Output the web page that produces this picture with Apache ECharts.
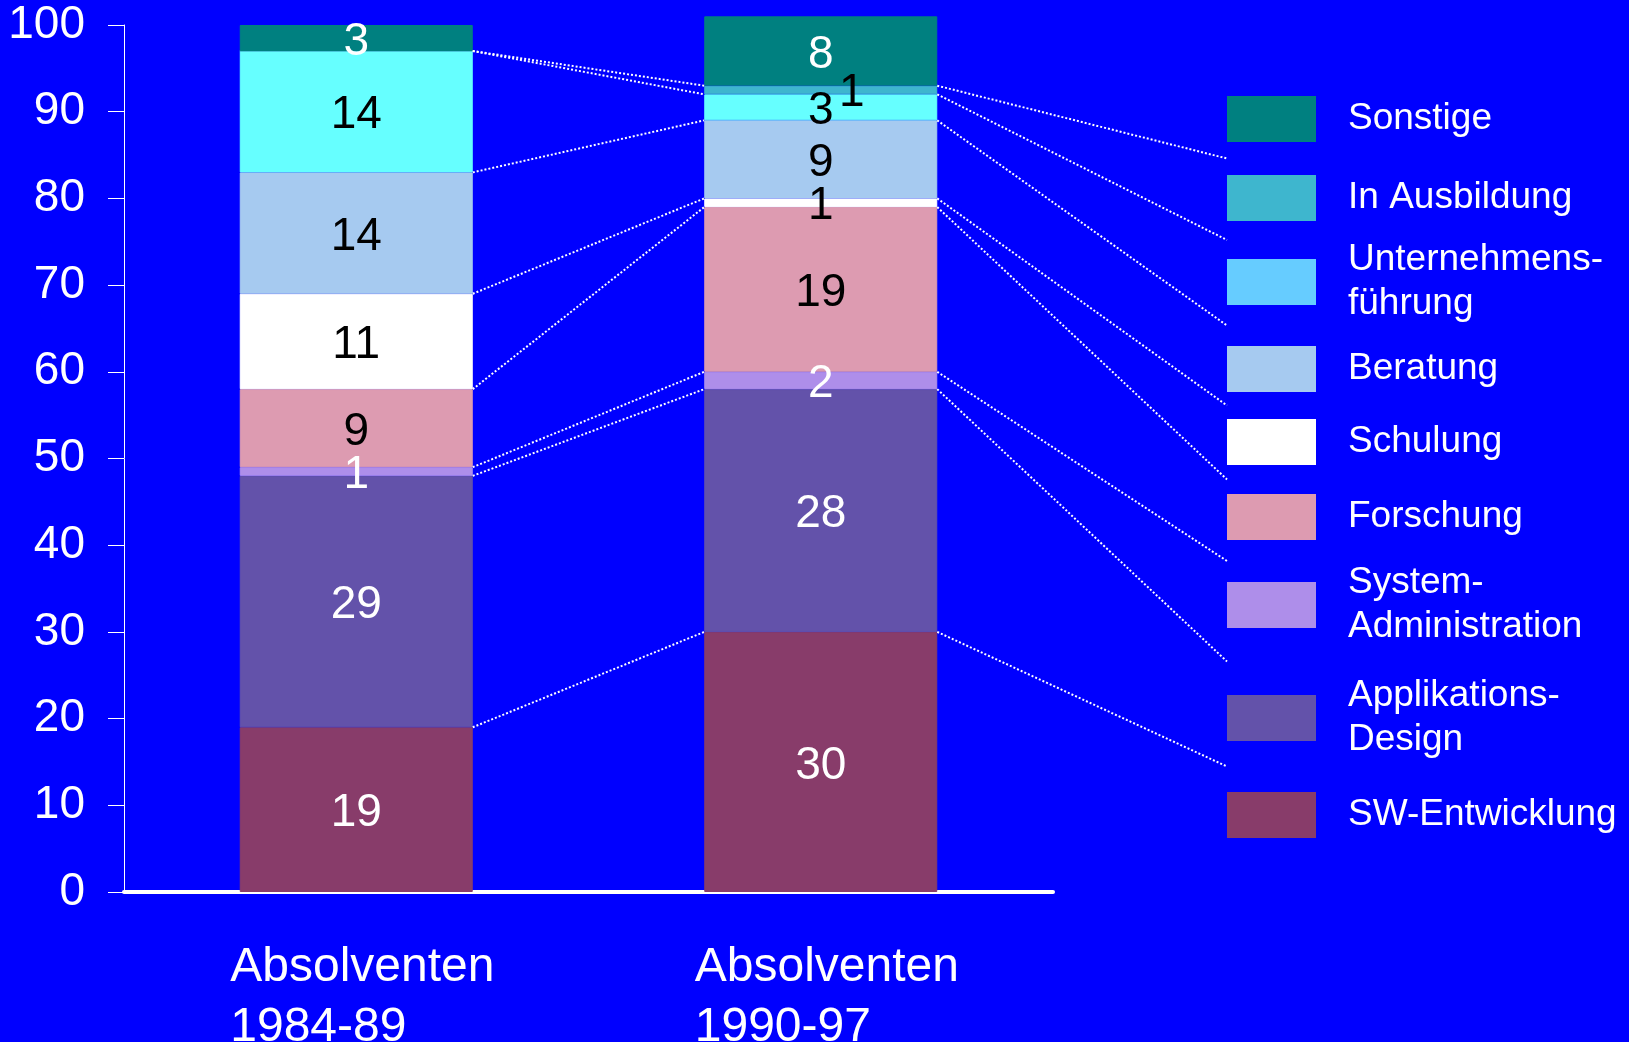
<!DOCTYPE html>
<html>
<head>
<meta charset="utf-8">
<script src="https://cdn.jsdelivr.net/npm/echarts@6/dist/echarts.min.js"></script>
<style>
  html, body { margin: 0; padding: 0; background: #0000ff; }
  #chart { width: 1629px; height: 1042px; }
</style>
</head>
<body>
<div id="chart"></div>
<script>
// --- data ---
const categories = ['Absolventen\n1984-89', 'Absolventen\n1990-97'];
// stack order, bottom to top
const seriesNames = ['SW-Entwicklung', 'Applikations-Design', 'System-Administration', 'Forschung',
  'Schulung', 'Beratung', 'Unternehmensführung', 'In Ausbildung', 'Sonstige'];
const values1984 = [19, 29, 1, 9, 11, 14, 14, 0, 3];
const values1990 = [30, 28, 2, 19, 1, 9, 3, 1, 8];
const yMin = 0, yMax = 100, yStep = 10;

// legend texts (with the line breaks of the original)
const legendText = {
  'Unternehmensführung': 'Unternehmens-\nführung',
  'System-Administration': 'System-\nAdministration',
  'Applikations-Design': 'Applikations-\nDesign'
};

// --- styles / layout ---
const FONT = '"Liberation Sans", Arial, sans-serif';
const colors = ['#883c6a', '#6352aa', '#ae8eea', '#dd9bb1', '#ffffff', '#a6caf0', '#66ffff', '#3eb6ce', '#008080'];
const labelColors = ['#fff', '#fff', '#fff', '#000', '#000', '#000', '#000', '#000', '#fff'];
const legendIconColor = { 'Unternehmensführung': '#66ccff' };
const BAR_WIDTH = 233;
const LEGEND_LEFT = 1227;
// vertical centre of each legend box, top to bottom (Sonstige ... SW-Entwicklung)
const legendCenters = [119, 198, 282, 369, 442, 517, 605, 718, 815];
const LEGEND_LINE_H = 44;

const legendOrder = seriesNames.slice().reverse();

const cum = (arr) => {
  const out = [0];
  arr.forEach((v, i) => out.push(out[i] + v));
  return out;
};
const cum1984 = cum(values1984);
const cum1990 = cum(values1990);

const chart = echarts.init(document.getElementById('chart'));

const barSeries = seriesNames.map((name, i) => ({
  name: name,
  type: 'bar',
  stack: 'total',
  barWidth: BAR_WIDTH,
  clip: false,
  // border in the fill colour hides the seams between stacked segments
  itemStyle: { color: colors[i], borderColor: colors[i], borderWidth: 1 },
  label: {
    show: true,
    position: 'inside',
    color: labelColors[i],
    fontSize: 46,
    fontFamily: FONT,
    offset: name === 'In Ausbildung' ? [31, 3] : [0, 4],
    formatter: (p) => (p.value ? String(p.value) : '')
  },
  emphasis: { disabled: true },
  data: [values1984[i], values1990[i]]
}));

const dotStyle = { stroke: '#ffffff', lineWidth: 2, lineDash: [2, 2], fill: null };

// dotted connectors: bar 1 -> bar 2 -> legend
const connectorSeries = {
  type: 'custom',
  clip: false,
  silent: true,
  z: 5,
  encode: { x: 0, y: 1 },
  data: [1, 2, 3, 4, 5, 6, 7, 8].map(k => [0, k]),
  renderItem: (params, api) => {
    const k = api.value(1);
    const a = api.coord([0, cum1984[k]]);
    const b = api.coord([1, cum1990[k]]);
    const half = BAR_WIDTH / 2;
    const endY = (legendCenters[9 - k] + legendCenters[8 - k]) / 2;
    return {
      type: 'group',
      children: [
        { type: 'line', shape: { x1: a[0] + half, y1: a[1], x2: b[0] - half, y2: b[1] }, style: dotStyle },
        { type: 'line', shape: { x1: b[0] + half, y1: b[1], x2: LEGEND_LEFT, y2: endY }, style: dotStyle }
      ]
    };
  }
};

const legends = legendOrder.map((name, j) => {
  const text = legendText[name] || name;
  const lines = text.split('\n').length;
  const item = { name: name };
  if (legendIconColor[name]) {
    item.itemStyle = { color: legendIconColor[name], borderColor: legendIconColor[name] };
  }
  return {
    data: [item],
    left: LEGEND_LEFT,
    top: legendCenters[j] - Math.max(23, lines * LEGEND_LINE_H / 2 + 2),
    padding: 0,
    orient: 'vertical',
    icon: 'rect',
    itemWidth: 89,
    itemHeight: 46,
    selectedMode: false,
    itemStyle: { borderWidth: 0 },
    formatter: (n) => legendText[n] || n,
    textStyle: {
      color: '#ffffff',
      fontSize: 37,
      lineHeight: LEGEND_LINE_H,
      fontFamily: FONT,
      padding: [4, 0, 0, 27]
    }
  };
});

chart.setOption({
  backgroundColor: '#0000ff',
  animation: false,
  textStyle: { fontFamily: FONT },
  grid: { left: 124, right: 576, top: 25, bottom: 150, outerBoundsMode: 'none' },
  legend: legends,
  xAxis: {
    type: 'category',
    data: categories,
    axisLine: { show: true, lineStyle: { color: '#ffffff', width: 4 } },
    axisTick: { show: false },
    axisLabel: {
      margin: 46,
      interval: 0,
      padding: [0, 0, 0, 14],
      formatter: (v) => v.split('\n').map(s => '{a|' + s + '}').join('\n'),
      rich: {
        a: { width: 266, align: 'left', color: '#ffffff', fontSize: 48, lineHeight: 60, fontFamily: FONT }
      }
    }
  },
  yAxis: {
    type: 'value',
    min: yMin,
    max: yMax,
    interval: yStep,
    splitLine: { show: false },
    axisLine: { show: true, lineStyle: { color: '#ffffff', width: 1 } },
    axisTick: { show: true, length: 16, lineStyle: { color: '#ffffff', width: 1 } },
    axisLabel: { color: '#ffffff', fontSize: 46, margin: 39, fontFamily: FONT, padding: [5, 0, 0, 0] }
  },
  series: barSeries.concat([connectorSeries])
});
</script>
</body>
</html>
